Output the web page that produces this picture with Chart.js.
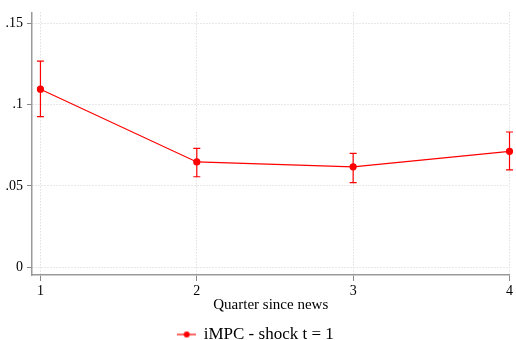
<!DOCTYPE html>
<html><head><meta charset="utf-8">
<script src="https://cdn.jsdelivr.net/npm/chart.js@4/dist/chart.umd.min.js"></script>
<style>html,body{margin:0;padding:0;background:#fff}canvas{display:block}</style>
</head><body>
<canvas id="c" width="516" height="340"></canvas>
<script>
const quarters = [1, 2, 3, 4];
const impc = [0.1094, 0.0647, 0.0617, 0.0712];
const ciLow = [0.0926, 0.0556, 0.0520, 0.0598];
const ciHigh = [0.1267, 0.0730, 0.0700, 0.0831];
const yTicks = [0, 0.05, 0.1, 0.15];
const yTickLabels = ['0', '.05', '.1', '.15'];
const FONT = "'Liberation Serif', 'DejaVu Serif', serif";
const RED = '#ff0000';

const errorBars = {
  id: 'errorBars',
  afterDatasetsDraw(chart) {
    const {ctx, scales: {x, y}} = chart;
    ctx.save();
    ctx.strokeStyle = RED;
    ctx.lineWidth = 1.2;
    quarters.forEach((q, i) => {
      const px = x.getPixelForValue(q);
      const lo = y.getPixelForValue(ciLow[i]);
      const hi = y.getPixelForValue(ciHigh[i]);
      ctx.beginPath();
      ctx.moveTo(px, lo); ctx.lineTo(px, hi);
      ctx.moveTo(px - 3.5, lo); ctx.lineTo(px + 3.5, lo);
      ctx.moveTo(px - 3.5, hi); ctx.lineTo(px + 3.5, hi);
      ctx.stroke();
    });
    ctx.restore();
  }
};

function legendIcon() {
  const cv = document.createElement('canvas');
  cv.width = 19; cv.height = 8;
  const c = cv.getContext('2d');
  c.strokeStyle = RED; c.lineWidth = 1.2;
  c.beginPath(); c.moveTo(0, 4); c.lineTo(19, 4); c.stroke();
  c.fillStyle = RED; c.beginPath(); c.arc(9.5, 4, 3, 0, Math.PI * 2); c.fill();
  return cv;
}
const icon = legendIcon();

new Chart(document.getElementById('c'), {
  type: 'scatter',
  data: {
    datasets: [{
      label: 'iMPC - shock t = 1',
      data: quarters.map((q, i) => ({x: q, y: impc[i]})),
      showLine: true,
      borderColor: RED,
      backgroundColor: RED,
      borderWidth: 1.2,
      pointRadius: 3,
      pointHoverRadius: 3,
      tension: 0,
      clip: false
    }]
  },
  options: {
    responsive: false,
    animation: false,
    events: [],
    layout: {padding: {left: 0, right: 4, top: 4, bottom: 0}},
    plugins: {
      tooltip: {enabled: false},
      legend: {
        position: 'bottom',
        maxHeight: 14,
        labels: {
          font: {family: FONT, size: 17},
          color: '#000',
          usePointStyle: true,
          padding: 0,
          generateLabels: (chart) => [{
            text: chart.data.datasets[0].label,
            pointStyle: icon,
            fillStyle: RED, strokeStyle: RED, lineWidth: 0,
            datasetIndex: 0
          }]
        }
      }
    },
    scales: {
      x: {
        type: 'linear',
        min: 0.946, max: 4,
        afterBuildTicks: (s) => { s.ticks = quarters.map(v => ({value: v})); },
        afterFit: (s) => { s.height = 51; },
        ticks: {font: {family: FONT, size: 14, lineHeight: 1}, color: '#000', padding: 3, callback: v => String(v)},
        grid: {color: '#d0d0d0', tickColor: '#888', tickLength: 6, tickBorderDash: [], lineWidth: 1},
        border: {color: '#999', width: 1.5, dash: [1, 2]},
        title: {display: true, text: 'Quarter since news', font: {family: FONT, size: 15, lineHeight: 1}, color: '#000', padding: {top: -4, bottom: 13}}
      },
      y: {
        min: -0.0048, max: 0.1566,
        afterBuildTicks: (s) => { s.ticks = yTicks.map(v => ({value: v})); },
        afterFit: (s) => { s.width = 32; },
        ticks: {font: {family: FONT, size: 14}, color: '#000', padding: 4,
          callback: (v) => yTickLabels[yTicks.indexOf(v)] ?? ''},
        grid: {color: '#d0d0d0', tickColor: '#888', tickLength: 5, tickBorderDash: [], lineWidth: 1},
        border: {color: '#999', width: 1.5, dash: [1, 2]}
      }
    }
  },
  plugins: [errorBars]
});
</script>
</body></html>
